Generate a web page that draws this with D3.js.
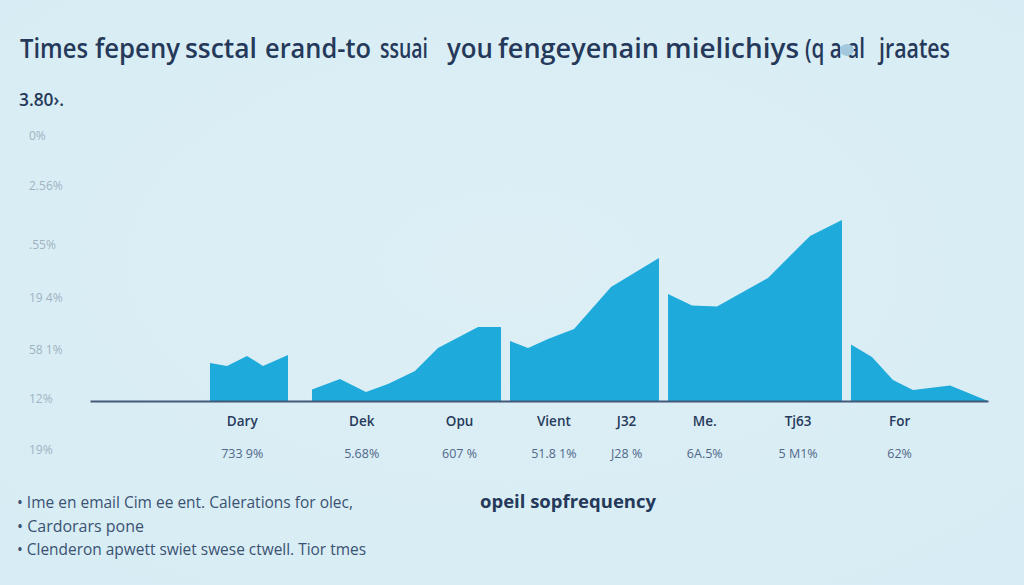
<!DOCTYPE html>
<html>
<head>
<meta charset="utf-8">
<script src="https://cdn.jsdelivr.net/npm/d3@7"></script>
<style>
html,body{margin:0;padding:0;background:#d9edf4;overflow:hidden}
svg{display:block}
text{font-family:"Open Sans","Noto Sans",sans-serif}
</style>
</head>
<body>
<script>
const titleWords = ["Times", "fepeny", "ssctal", "erand-to", "ssuai", "you", "fengeyenain", "mielichiys", "(q a \u0430l", "jraates"];
const cornerText = "3.80\u203a.";
const centerNote = "opeil sopfrequency";
const notes = ["\u2022 Ime en email Cim ee ent. Calerations for olec,", "\u2022 Cardorars pone", "\u2022 Clenderon apwett swiet swese ctwell. Tior tmes"];

const xSeg1 = [13.36, 15.26, 17.48, 19.27, 22.05];
const vSeg1 = [14.2, 13.1, 16.8, 13.1, 17.2];
const xSeg2 = [24.72, 27.84, 30.73, 33.18, 36.19, 38.75, 43.21, 45.77];
const vSeg2 = [4.3, 8.2, 3.4, 6.3, 11.2, 19.8, 27.6, 27.6];
const xSeg3 = [46.77, 48.78, 51.0, 53.9, 58.02, 63.36];
const vSeg3 = [22.4, 19.8, 23.1, 26.9, 42.5, 53.4];
const xSeg4 = [64.37, 67.04, 69.82, 73.5, 75.5, 80.18, 83.74];
const vSeg4 = [39.9, 35.6, 35.3, 42.2, 45.9, 61.6, 67.5];
const xSeg5 = [84.74, 87.08, 89.42, 91.65, 95.77, 100];
const vSeg5 = [21.1, 16.4, 7.8, 4.1, 5.8, 0];
const segX = [xSeg1, xSeg2, xSeg3, xSeg4, xSeg5];
const segV = [vSeg1, vSeg2, vSeg3, vSeg4, vSeg5];

const categories = ["Dary", "Dek", "Opu", "Vient", "J32", "Me.", "Tj63", "For"];
const categoryPos = [16.9, 30.2, 41.1, 51.6, 59.7, 68.4, 78.8, 90.1];
const shareLabels = ["733 9%", "5.68%", "607 %", "51.8 1%", "J28 %", "6A.5%", "5 M1%", "62%"];
const yTickLabels = ["0%", "2.56%", ".55%", "19 4%", "58 1%", "12%", "19%"];
const yTickPos = [99.3, 80.6, 58.6, 38.8, 19.4, 1.1, -17.9];

const W = 1024, H = 585;
const svg = d3.select("body").append("svg").attr("width", W).attr("height", H);

const defs = svg.append("defs");
const bg = defs.append("radialGradient").attr("id", "bg").attr("cx", "50%").attr("cy", "45%").attr("r", "75%");
bg.append("stop").attr("offset", "0%").attr("stop-color", "#ddeff5");
bg.append("stop").attr("offset", "100%").attr("stop-color", "#d7ecf4");
svg.append("rect").attr("width", W).attr("height", H).attr("fill", "url(#bg)");

const x = d3.scaleLinear().domain([0, 100]).range([90, 988]);
const y = d3.scaleLinear().domain([0, 100]).range([401, 133]);

const area = d3.area().x(d => x(d[0])).y0(y(0)).y1(d => y(d[1]));
svg.append("g").selectAll("path").data(segX.map((xs, i) => d3.zip(xs, segV[i]))).join("path")
  .attr("d", area).attr("fill", "#1eaadb");

const xAxis = d3.axisBottom(x).tickValues(categoryPos).tickSize(0).tickPadding(0)
  .tickFormat((d, i) => categories[i]);
const gx = svg.append("g").attr("transform", `translate(0,${y(0)})`).call(xAxis);
gx.select(".domain").attr("stroke", "#43597a").attr("stroke-width", 2);
gx.selectAll("text").attr("dy", 0).attr("y", 25).attr("fill", "#263a5c")
  .attr("font-size", 13.5).attr("font-weight", 600).style("font-family", '"Open Sans"');

const shareAxis = d3.axisBottom(x).tickValues(categoryPos).tickSize(0).tickFormat((d, i) => shareLabels[i]);
const gs = svg.append("g").attr("transform", `translate(0,${y(0)})`).call(shareAxis);
gs.select(".domain").remove();
gs.selectAll("text").attr("dy", 0).attr("y", 57).attr("fill", "#51688a")
  .attr("font-size", 12.5).style("font-family", '"Open Sans"');

const yAxis = d3.axisLeft(y).tickValues(yTickPos).tickSize(0).tickFormat((d, i) => yTickLabels[i]);
const gy = svg.append("g").attr("transform", "translate(29,0)").call(yAxis);
gy.select(".domain").remove();
gy.selectAll("text").attr("x", 0).attr("dy", "0.35em").attr("text-anchor", "start").attr("fill", "#9fb3c2")
  .attr("font-size", 12).style("font-family", '"Open Sans"');

const wordStart = [20, 95, 185, 265, 380, 447, 498, 665, 805, 879];
const wordEnd = [88, 180, 257, 371, 428, 493, 659, 799, 865, 950];
svg.append("g").selectAll("text").data(titleWords).join("text")
  .attr("x", (d, i) => wordStart[i]).attr("y", 58).attr("fill", "#25395a")
  .attr("font-size", 27).attr("font-weight", 600)
  .attr("textLength", (d, i) => wordEnd[i] - wordStart[i]).attr("lengthAdjust", "spacingAndGlyphs").text(d => d);

svg.append("ellipse").attr("cx", 847).attr("cy", 50).attr("rx", 7).attr("ry", 6).attr("fill", "#a3c8de");

svg.append("text").attr("x", 19).attr("y", 106).attr("fill", "#25395a")
  .attr("font-size", 18).attr("font-weight", 600)
  .attr("textLength", 45).attr("lengthAdjust", "spacingAndGlyphs").text(cornerText);

svg.append("text").attr("x", 480).attr("y", 508).attr("fill", "#25395a")
  .attr("font-size", 18).attr("font-weight", 700)
  .attr("textLength", 176).attr("lengthAdjust", "spacingAndGlyphs").text(centerNote);

const noteLen = [336, 127, 349];
const noteY = d3.scaleLinear().domain([0, 2]).range([508, 555]);
svg.append("g").selectAll("text").data(notes).join("text")
  .attr("x", 17).attr("y", (d, i) => noteY(i)).attr("fill", "#3a5272")
  .attr("font-size", 15.5)
  .attr("textLength", (d, i) => noteLen[i]).attr("lengthAdjust", "spacingAndGlyphs").text(d => d);
</script>
</body>
</html>
